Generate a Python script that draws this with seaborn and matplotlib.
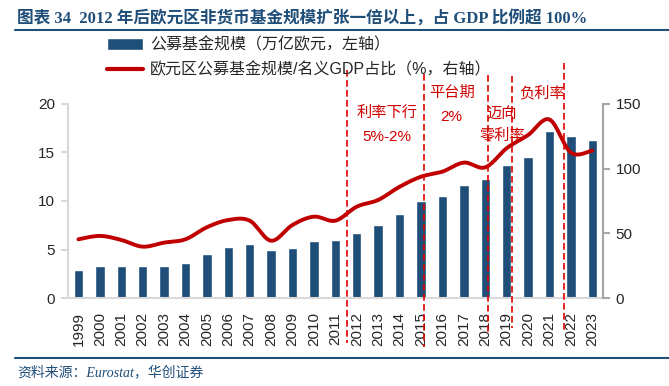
import numpy as np
import pandas as pd
import seaborn as sns
import matplotlib.pyplot as plt
from matplotlib.patches import Patch
from matplotlib.lines import Line2D

# data
years = [str(y) for y in range(1999, 2024)]
fund_size = [2.9, 3.3, 3.3, 3.3, 3.3, 3.6, 4.5, 5.3, 5.6, 4.9, 5.15, 5.9, 6.0,
             6.75, 7.5, 8.7, 9.95, 10.5, 11.7, 12.3, 13.7, 14.5, 17.2, 16.7, 16.3]
gdp_ratio = [45.4, 48, 44.9, 39.7, 42.8, 45.4, 54.7, 60.3, 59.8, 44.3, 56.5, 62.9, 59.8,
             70.6, 75.8, 86, 93.8, 97.7, 104.7, 101, 115.8, 126, 138, 112.4, 114]

bar_label = '公募基金规模（万亿欧元，左轴）'
line_label = '欧元区公募基金规模/名义GDP占比（%，右轴）'
title = '图表 34  2012 年后欧元区非货币基金规模扩张一倍以上，占 GDP 比例超 100%'
source = '资料来源：Eurostat，华创证券'

# period breaks (bar index units) and their labels
breaks = [12.55, 16.14, 19.13, 20.25, 22.68]
break_top = [70, 74, 75, 76, 63]       # px
break_bottom = [343, 347, 332, 328, 333]
period_text = [('利率下行', 387, 113), ('5%-2%', 387, 137),
               ('平台期', 452, 93), ('2%', 451, 117),
               ('迈向', 502, 115), ('零利率', 502, 135),
               ('负利率', 542, 93)]

W, H = 669, 386
blue = '#1F4E79'
red = '#C00000'


def smooth(x, y, n=16):
    # excel-style smoothed line (cubic bezier through the points)
    pts = np.column_stack([x, y]).astype(float)
    p = np.vstack([pts[0], pts, pts[-1]])
    out = []
    t = np.linspace(0, 1, n, endpoint=False)[:, None]
    for i in range(len(pts) - 1):
        p0, p1, p2, p3 = p[i], p[i + 1], p[i + 2], p[i + 3]
        c1 = p1 + (p2 - p0) / 6
        c2 = p2 - (p3 - p1) / 6
        out.append((1 - t)**3 * p1 + 3 * (1 - t)**2 * t * c1 + 3 * (1 - t) * t**2 * c2 + t**3 * p2)
    out.append(pts[-1:])
    return np.vstack(out)


sns.set_style('white')
plt.rcParams['font.family'] = ['Liberation Sans', 'Noto Sans CJK SC']

fig = plt.figure(figsize=(W / 100, H / 100), dpi=100)
ax = fig.add_axes([67.7 / W, 1 - 298 / H, (603 - 67.7) / W, (298 - 104) / H])

df = pd.DataFrame({'year': years, 'size': fund_size, 'ratio': gdp_ratio})
sns.barplot(data=df, x='year', y='size', color=blue, saturation=1, width=0.44, ax=ax)
ax.set_xlim(-0.5, 24.5)
ax.set_ylim(0, 20)
ax.set_yticks([0, 5, 10, 15, 20])
ax.set_xlabel('')
ax.set_ylabel('')
ax.set_xticks(np.arange(-0.5, 25, 1), minor=True)
ax.tick_params(axis='x', which='major', length=0, pad=10, labelsize=11, rotation=90)
ax.tick_params(axis='x', which='minor', length=5, width=1.5, color='#D9D9D9')
ax.tick_params(axis='y', length=5, width=1.5, color='#D9D9D9', pad=4, labelsize=11, left=True)
for s in ['top', 'right']:
    ax.spines[s].set_visible(False)
for s in ['left', 'bottom']:
    ax.spines[s].set_color('#D9D9D9')
    ax.spines[s].set_linewidth(1.5)

ax2 = ax.twinx()
sm = smooth(np.arange(len(years)), gdp_ratio)
sline = pd.DataFrame({'x': sm[:, 0], 'y': sm[:, 1]})
sns.lineplot(data=sline, x='x', y='y', color=red, lw=2.8, estimator=None, sort=False, ax=ax2)
ax2.set_ylim(0, 150)
ax2.set_yticks([0, 50, 100, 150])
ax2.set_ylabel('')
ax2.tick_params(axis='y', length=5, width=1.5, color='#A6A6A6', pad=4, labelsize=11, right=True)
for s in ['top', 'left', 'bottom']:
    ax2.spines[s].set_visible(False)
ax2.spines['right'].set_color('#A6A6A6')
ax2.spines['right'].set_linewidth(1.5)
ax.set_xlim(-0.5, 24.5)

# dashed period lines
for xb, yt, yb in zip(breaks, break_top, break_bottom):
    ax2.plot([xb, xb], [(298 - yt) / 9.7, (298 - yb) / 9.7], transform=ax.transData,
             color='#E00000', lw=1.2, dashes=(4, 2), clip_on=False, zorder=5)
for txt, x, y in period_text:
    fig.text(x / W, 1 - y / H, txt, ha='center', va='center', fontsize=11, color='#D00000')

# legend
handles = [Patch(facecolor=blue), Line2D([], [], color=red, lw=3)]
fig.legend(handles, [bar_label, line_label], loc='upper left',
           bbox_to_anchor=(107 / W, 1 - 37 / H), frameon=False, fontsize=11.5,
           handlelength=2.25, handletextpad=0.45, labelspacing=0.55,
           borderpad=0, borderaxespad=0)

# title, rules and source
fig.text(17 / W, 1 - 18 / H, title, ha='left', va='center', fontsize=12, weight='bold',
         color=blue, family=['Liberation Serif', 'Noto Sans CJK SC'])
fig.add_artist(Line2D([15 / W, 1], [1 - 30 / H] * 2, color=blue, lw=1.5))
fig.add_artist(Line2D([15 / W, 1], [1 - 358 / H] * 2, color=blue, lw=1.5))
fig.text(17 / W, 1 - 372 / H, source, ha='left', va='center', fontsize=10,
         style='italic', color=blue, family=['Liberation Serif', 'Noto Sans CJK SC'])

fig.savefig('out.png', dpi=100)
